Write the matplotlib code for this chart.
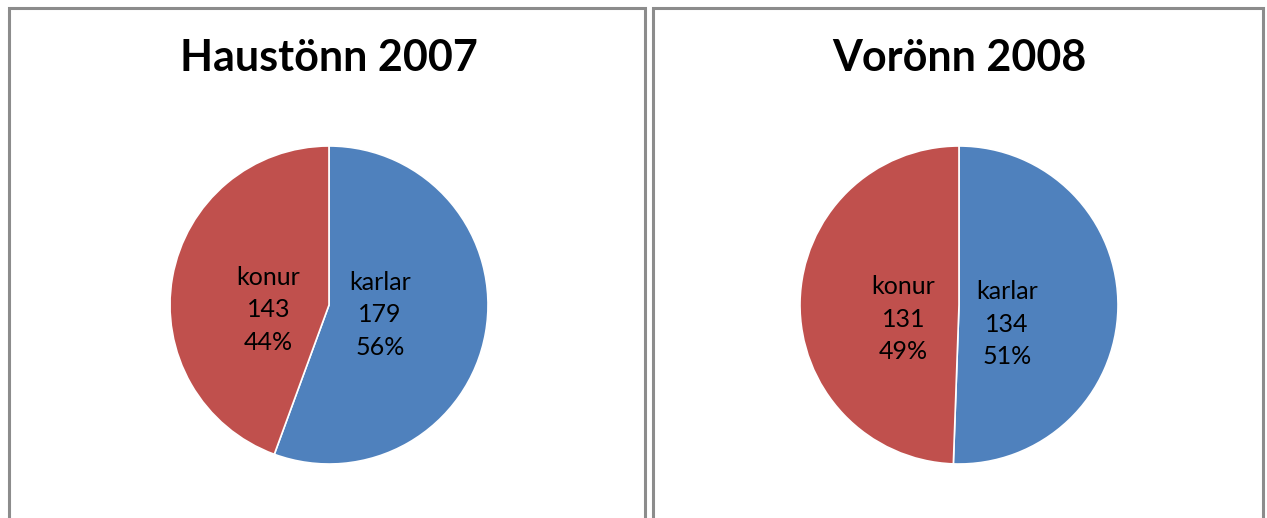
import matplotlib.pyplot as plt
from matplotlib.patches import Rectangle

titles = ['Haustönn 2007', 'Vorönn 2008']
categories = ['karlar', 'konur']
counts_2007 = [179, 143]
counts_2008 = [134, 131]
percent_2007 = [56, 44]
percent_2008 = [51, 49]

colors = ['#4F81BD', '#C0504D']
W, H = 1267, 518

fig = plt.figure(figsize=(W / 100, H / 100), dpi=100)
fig.patch.set_facecolor('white')

# panel frames
for x0, x1 in [(9, 645), (653, 1263)]:
    fig.patches.append(Rectangle((x0 / W, -0.05), (x1 - x0) / W, 1 - 8 / H + 0.05,
                                 transform=fig.transFigure, fill=False,
                                 edgecolor='#8C8C8C', linewidth=2.2))

panels = [
    (titles[0], counts_2007, percent_2007, 329, [(0.32, -0.06), (-0.38, -0.03)]),
    (titles[1], counts_2008, percent_2008, 959, [(0.30, -0.12), (-0.35, -0.09)]),
]
r = 159
cy = 305
for title, counts, pcts, cx, label_pos in panels:
    ax = fig.add_axes([(cx - r) / W, (H - cy - r) / H, 2 * r / W, 2 * r / H])
    ax.pie(counts, colors=colors, startangle=90, counterclock=False,
           wedgeprops={'edgecolor': 'white', 'linewidth': 1.2})
    ax.set_xlim(-1, 1)
    ax.set_ylim(-1, 1)
    ax.set_aspect('auto')
    ax.axis('off')
    for name, n, p, (lx, ly) in zip(categories, counts, pcts, label_pos):
        ax.text(lx, ly, f'{name}\n{n}\n{p}%', ha='center', va='center',
                fontsize=18, family='Lato', linespacing=1.5, color='black')
    fig.text(cx / W, 1 - 58 / H, title, ha='center', va='center',
             fontsize=31, fontweight='bold', family='Lato')

fig.savefig('out.png', dpi=100)
